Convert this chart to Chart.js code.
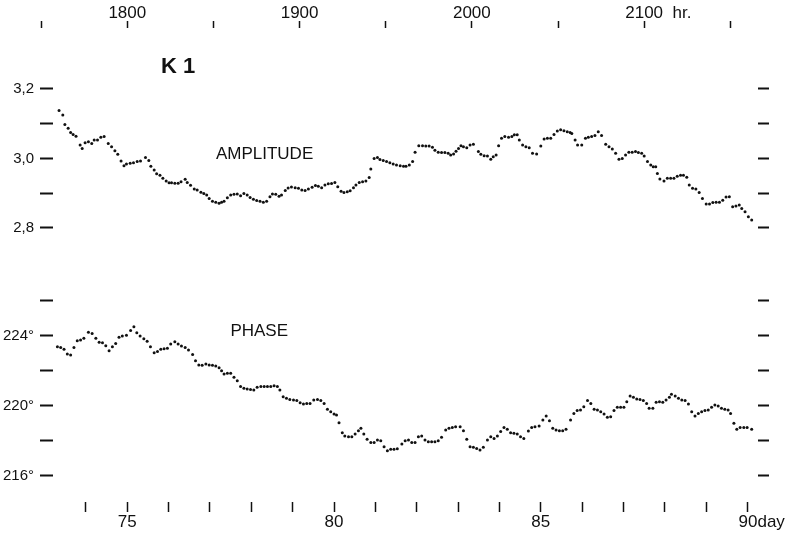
<!DOCTYPE html>
<html>
<head>
<meta charset="utf-8">
<script src="https://cdn.jsdelivr.net/npm/chart.js@4.4.1/dist/chart.umd.min.js"></script>
<style>
  html, body { margin: 0; padding: 0; background: #fff; }
  #wrap { width: 792px; height: 535px; }
</style>
</head>
<body>
<div id="wrap"><canvas id="k1Chart" width="792" height="535"></canvas></div>
<script>
// K1 constituent: amplitude and phase against day number (top axis in hours)
var ampDays = [
  73.35, 73.44, 73.49, 73.57, 73.63, 73.69, 73.76, 73.86, 73.91, 73.98,
  74.06, 74.14, 74.20, 74.28, 74.36, 74.44, 74.54, 74.62, 74.70, 74.77,
  74.85, 74.92, 74.98, 75.07, 75.15, 75.24, 75.32, 75.44, 75.52, 75.57,
  75.65, 75.71, 75.79, 75.86, 75.94, 76.01, 76.07, 76.15, 76.23, 76.30,
  76.40, 76.45, 76.53, 76.62, 76.69, 76.78, 76.85, 76.92, 76.98, 77.06,
  77.14, 77.22, 77.28, 77.34, 77.42, 77.50, 77.58, 77.66, 77.74, 77.82,
  77.90, 77.97, 78.05, 78.13, 78.21, 78.29, 78.37, 78.45, 78.51, 78.59,
  78.67, 78.73, 78.82, 78.89, 78.97, 79.06, 79.14, 79.22, 79.30, 79.38,
  79.47, 79.55, 79.62, 79.70, 79.78, 79.86, 79.94, 80.02, 80.09, 80.17,
  80.24, 80.32, 80.39, 80.47, 80.53, 80.61, 80.69, 80.77, 80.85, 80.89,
  80.97, 81.05, 81.11, 81.19, 81.27, 81.35, 81.43, 81.51,
  81.60, 81.68, 81.74, 81.82, 81.90, 81.96, 82.05, 82.14, 82.22, 82.30,
  82.38, 82.44, 82.52, 82.60, 82.68, 82.76, 82.82, 82.89, 82.95, 83.01,
  83.07, 83.13, 83.21, 83.29, 83.37, 83.49, 83.55, 83.63, 83.71, 83.79,
  83.85, 83.92, 83.98, 84.05, 84.13, 84.22, 84.30, 84.36, 84.43, 84.48,
  84.56, 84.64, 84.72, 84.80, 84.90, 85.00, 85.08, 85.16, 85.24, 85.32,
  85.40, 85.48, 85.56, 85.64, 85.71, 85.75, 85.83, 85.89, 85.99, 86.08,
  86.15, 86.23, 86.31, 86.39, 86.47, 86.57, 86.65, 86.73, 86.81, 86.89,
  86.97, 87.05, 87.13, 87.21, 87.29, 87.36, 87.44, 87.50, 87.58, 87.66,
  87.72, 87.78, 87.82, 87.88, 87.98, 88.06, 88.14, 88.22, 88.30, 88.38,
  88.45, 88.53, 88.59, 88.67, 88.75, 88.83, 88.91, 89.00, 89.08, 89.16,
  89.24, 89.32, 89.40, 89.48, 89.56, 89.64, 89.72, 89.80, 89.86, 89.94,
  90.02, 90.10
];
var ampValues = [
  3.138, 3.125, 3.098, 3.087, 3.075, 3.069, 3.064, 3.039, 3.029, 3.045,
  3.048, 3.043, 3.053, 3.053, 3.061, 3.063, 3.043, 3.034, 3.022, 3.012,
  2.993, 2.979, 2.984, 2.986, 2.988, 2.991, 2.993, 3.003, 2.994, 2.978,
  2.967, 2.956, 2.952, 2.943, 2.935, 2.930, 2.930, 2.929, 2.929, 2.933,
  2.940, 2.931, 2.923, 2.912, 2.909, 2.903, 2.899, 2.895, 2.885, 2.877,
  2.874, 2.871, 2.874, 2.877, 2.887, 2.895, 2.897, 2.898, 2.893, 2.899,
  2.895, 2.888, 2.883, 2.879, 2.877, 2.874, 2.877, 2.890, 2.898, 2.897,
  2.891, 2.895, 2.908, 2.915, 2.918, 2.916, 2.914, 2.909, 2.908, 2.912,
  2.917, 2.922, 2.920, 2.916, 2.924, 2.927, 2.928, 2.931, 2.919, 2.906,
  2.902, 2.904, 2.907, 2.916, 2.924, 2.931, 2.933, 2.935, 2.945, 2.970,
  3.000, 3.003, 2.997, 2.994, 2.991, 2.988, 2.984, 2.981,
  2.979, 2.978, 2.978, 2.981, 2.991, 3.018, 3.037, 3.037, 3.036, 3.036,
  3.032, 3.024, 3.018, 3.017, 3.017, 3.015, 3.010, 3.013, 3.021, 3.029,
  3.037, 3.034, 3.031, 3.039, 3.041, 3.020, 3.012, 3.008, 3.007, 2.998,
  3.005, 3.010, 3.037, 3.058, 3.063, 3.061, 3.063, 3.068, 3.068, 3.053,
  3.039, 3.034, 3.031, 3.015, 3.013, 3.036, 3.056, 3.058, 3.058, 3.069,
  3.079, 3.083, 3.080, 3.077, 3.075, 3.072, 3.053, 3.039, 3.039, 3.058,
  3.061, 3.063, 3.066, 3.077, 3.066, 3.041, 3.034, 3.027, 3.015, 2.998,
  3.000, 3.010, 3.018, 3.018, 3.020, 3.017, 3.015, 3.007, 2.991, 2.981,
  2.976, 2.976, 2.957, 2.941, 2.935, 2.943, 2.943, 2.943, 2.949, 2.952,
  2.952, 2.946, 2.924, 2.914, 2.912, 2.902, 2.885, 2.869, 2.869, 2.873,
  2.874, 2.874, 2.880, 2.889, 2.890, 2.861, 2.863, 2.866, 2.856, 2.847,
  2.832, 2.823
];

var phaseDays = [
  73.31, 73.39, 73.47, 73.55, 73.63, 73.71, 73.79, 73.87, 73.95, 74.06,
  74.15, 74.24, 74.32, 74.40, 74.48, 74.56, 74.64, 74.72, 74.80, 74.88,
  74.98, 75.08, 75.16, 75.23, 75.31, 75.40, 75.48, 75.56, 75.65, 75.73,
  75.81, 75.89, 75.97, 76.05, 76.15, 76.23, 76.31, 76.40, 76.48, 76.58,
  76.65, 76.73, 76.81, 76.90, 76.98, 77.06, 77.14, 77.22, 77.28, 77.34,
  77.42, 77.50, 77.58, 77.66, 77.74, 77.82, 77.90, 77.98, 78.06, 78.14,
  78.23, 78.31, 78.39, 78.47, 78.55, 78.63, 78.69, 78.77, 78.85, 78.93,
  79.02, 79.10, 79.18, 79.26, 79.34, 79.42, 79.51, 79.60, 79.68, 79.76,
  79.84, 79.92, 80.00, 80.06, 80.12, 80.20, 80.26, 80.35, 80.43, 80.51,
  80.59, 80.65, 80.72, 80.80, 80.89, 80.97, 81.05, 81.13, 81.21, 81.29,
  81.37, 81.45, 81.53,
  81.64, 81.72, 81.80, 81.88, 81.96, 82.04, 82.12, 82.20, 82.28, 82.36,
  82.44, 82.52, 82.60, 82.70, 82.78, 82.86, 82.94, 83.05, 83.13, 83.21,
  83.29, 83.37, 83.45, 83.53, 83.61, 83.71, 83.79, 83.87, 83.95, 84.03,
  84.11, 84.19, 84.27, 84.35, 84.43, 84.51, 84.59, 84.70, 84.78, 84.86,
  84.96, 85.05, 85.13, 85.21, 85.29, 85.37, 85.45, 85.53, 85.61, 85.72,
  85.80, 85.88, 85.96, 86.04, 86.13, 86.21, 86.29, 86.37, 86.45, 86.53,
  86.61, 86.69, 86.77, 86.85, 86.93, 87.01, 87.08, 87.16, 87.24, 87.32,
  87.40, 87.48, 87.56, 87.62, 87.71, 87.79, 87.87, 87.95, 88.03, 88.11,
  88.16, 88.25, 88.33, 88.41, 88.49, 88.57, 88.65, 88.73, 88.81, 88.89,
  88.97, 89.05, 89.13, 89.21, 89.29, 89.37, 89.45, 89.53, 89.59, 89.67,
  89.74, 89.82, 89.91, 89.99, 90.10
];
var phaseValues = [
  223.36, 223.32, 223.21, 222.94, 222.89, 223.32, 223.70, 223.74, 223.84, 224.18,
  224.12, 223.84, 223.61, 223.59, 223.42, 223.13, 223.36, 223.55, 223.90, 223.97,
  224.01, 224.28, 224.50, 224.16, 223.97, 223.82, 223.67, 223.36, 223.02, 223.08,
  223.21, 223.25, 223.27, 223.51, 223.65, 223.51, 223.40, 223.32, 223.17, 222.92,
  222.56, 222.31, 222.30, 222.37, 222.31, 222.30, 222.26, 222.16, 221.99, 221.80,
  221.84, 221.84, 221.61, 221.42, 221.08, 220.98, 220.94, 220.92, 220.89, 221.04,
  221.08, 221.08, 221.08, 221.08, 221.13, 221.08, 220.89, 220.50, 220.41, 220.35,
  220.31, 220.28, 220.16, 220.09, 220.12, 220.12, 220.31, 220.35, 220.28, 220.12,
  219.78, 219.65, 219.51, 219.46, 219.02, 218.45, 218.26, 218.22, 218.22, 218.37,
  218.56, 218.70, 218.37, 218.07, 217.88, 217.88, 218.03, 217.99, 217.65, 217.42,
  217.50, 217.50, 217.53,
  217.80, 217.99, 218.03, 217.88, 217.88, 218.22, 218.26, 218.03, 217.93, 217.93,
  217.93, 217.99, 218.18, 218.60, 218.70, 218.75, 218.79, 218.79, 218.56, 218.07,
  217.65, 217.61, 217.55, 217.46, 217.61, 218.03, 218.22, 218.12, 218.26, 218.51,
  218.75, 218.64, 218.45, 218.41, 218.37, 218.22, 218.12, 218.54, 218.75, 218.79,
  218.83, 219.17, 219.40, 219.13, 218.70, 218.60, 218.56, 218.56, 218.64, 219.17,
  219.55, 219.71, 219.74, 219.93, 220.28, 220.12, 219.78, 219.74, 219.65, 219.51,
  219.33, 219.36, 219.71, 219.90, 219.90, 219.90, 220.22, 220.54, 220.47, 220.37,
  220.35, 220.28, 220.12, 219.84, 219.84, 220.18, 220.22, 220.18, 220.31, 220.47,
  220.64, 220.54, 220.41, 220.31, 220.28, 220.09, 219.65, 219.40, 219.55, 219.65,
  219.71, 219.74, 219.90, 220.03, 219.97, 219.84, 219.78, 219.74, 219.55, 218.98,
  218.64, 218.75, 218.75, 218.75, 218.64
];

var dayTicks = [74, 75, 76, 77, 78, 79, 80, 81, 82, 83, 84, 85, 86, 87, 88, 89, 90];
var dayTickLabels = ["", "75", "", "", "", "", "80", "", "", "", "", "85", "", "", "", "", "      90day"];
var hourTicks = [1750, 1800, 1850, 1900, 1950, 2000, 2050, 2100, 2150];
var hourTickLabels = ["", "1800", "", "1900", "", "2000", "", "      2100  hr.", ""];
var ampTicks = [2.8, 2.9, 3.0, 3.1, 3.2];
var ampTickLabels = ["2,8", "", "3,0", "", "3,2"];
var phaseTicks = [216, 218, 220, 222, 224, 226];
var phaseTickLabels = ["216°", "", "220°", "", "224°", ""];

var dayMin = 72.889, dayMax = 90.253;
var ampMin = 2.0115, ampMax = 3.3755;
var phaseMin = 214.486, phaseMax = 241.571;

var ink = "#111";
var fontFamily = "'Liberation Sans', Arial, Helvetica, sans-serif";

function pairs(xs, ys) {
    return xs.map(function (x, i) { return { x: x, y: ys[i] }; });
}
function fixedTicks(values) {
    return function (scale) {
        scale.ticks = values.map(function (v) { return { value: v }; });
    };
}
function fixedSize(w, h) {
    return function (scale) {
        if (w !== null) scale.width = w;
        if (h !== null) scale.height = h;
        scale.paddingLeft = 0; scale.paddingRight = 0;
        scale.paddingTop = 0; scale.paddingBottom = 0;
    };
}

// both left axes sit at the plot edge with zero width; widen their box so labels are not clipped
var leftLabelRoom = {
    id: "leftLabelRoom",
    afterLayout: function (chart) {
        chart.scales.yA.left = 0;
        chart.scales.yP.left = 0;
    }
};

var textPlugin = {
    id: "panelText",
    afterDraw: function (chart) {
        var ctx = chart.ctx, x = chart.scales.x;
        var yA = chart.scales.yA, yP = chart.scales.yP;
        ctx.save();
        ctx.fillStyle = ink;
        ctx.textAlign = "center";
        ctx.textBaseline = "middle";
        ctx.font = "bold 22px " + fontFamily;
        ctx.fillText("K 1", x.getPixelForValue(76.23), yA.getPixelForValue(3.263));
        ctx.font = "17px " + fontFamily;
        ctx.fillText("AMPLITUDE", x.getPixelForValue(78.32), yA.getPixelForValue(3.0115));
        ctx.fillText("PHASE", x.getPixelForValue(78.19), yP.getPixelForValue(224.26));
        ctx.restore();
    }
};

document.addEventListener("DOMContentLoaded", function () {
    var ctx = document.getElementById("k1Chart").getContext("2d");
    new Chart(ctx, {
        type: "scatter",
        data: {
            datasets: [{
                label: "Amplitude",
                data: pairs(ampDays, ampValues),
                xAxisID: "x",
                yAxisID: "yA",
                pointRadius: 1.5,
                pointBorderWidth: 0,
                backgroundColor: ink,
                borderColor: ink
            }, {
                label: "Phase",
                data: pairs(phaseDays, phaseValues),
                xAxisID: "x",
                yAxisID: "yP",
                pointRadius: 1.5,
                pointBorderWidth: 0,
                backgroundColor: ink,
                borderColor: ink
            }]
        },
        options: {
            responsive: false,
            animation: false,
            devicePixelRatio: 1,
            layout: { padding: { left: 40, right: 34, top: 0, bottom: 0 } },
            plugins: {
                legend: { display: false },
                tooltip: { enabled: false }
            },
            scales: {
                x: {
                    type: "linear", position: "bottom", min: dayMin, max: dayMax,
                    afterBuildTicks: fixedTicks(dayTicks),
                    afterFit: fixedSize(null, 33),
                    border: { display: false },
                    grid: { drawOnChartArea: false, tickLength: 10, tickWidth: 1.5, tickColor: ink },
                    ticks: {
                        autoSkip: false, maxRotation: 0, padding: 0, color: ink,
                        font: { family: fontFamily, size: 17 },
                        callback: function (v, i) { return dayTickLabels[i]; }
                    }
                },
                xTop: {
                    type: "linear", position: "top", min: dayMin * 24, max: dayMax * 24,
                    afterBuildTicks: fixedTicks(hourTicks),
                    afterFit: fixedSize(null, 28),
                    border: { display: false },
                    grid: { drawOnChartArea: false, tickLength: 7, tickWidth: 1.5, tickColor: ink },
                    ticks: {
                        autoSkip: false, maxRotation: 0, padding: -3, color: ink,
                        font: { family: fontFamily, size: 17 },
                        callback: function (v, i) { return hourTickLabels[i]; }
                    }
                },
                yA: {
                    type: "linear", position: "left", min: ampMin, max: ampMax,
                    afterBuildTicks: fixedTicks(ampTicks),
                    afterFit: fixedSize(0, null),
                    border: { display: false },
                    grid: { drawOnChartArea: false, tickLength: -13, tickWidth: 2, tickColor: ink },
                    ticks: {
                        padding: 19, color: ink, autoSkip: false,
                        font: { family: fontFamily, size: 15 },
                        callback: function (v, i) { return ampTickLabels[i]; }
                    }
                },
                yP: {
                    type: "linear", position: "left", min: phaseMin, max: phaseMax,
                    afterBuildTicks: fixedTicks(phaseTicks),
                    afterFit: fixedSize(0, null),
                    border: { display: false },
                    grid: { drawOnChartArea: false, tickLength: -13, tickWidth: 2, tickColor: ink },
                    ticks: {
                        padding: 19, color: ink, autoSkip: false,
                        font: { family: fontFamily, size: 15 },
                        callback: function (v, i) { return phaseTickLabels[i]; }
                    }
                },
                yARight: {
                    type: "linear", position: "right", min: ampMin, max: ampMax,
                    afterBuildTicks: fixedTicks(ampTicks),
                    afterFit: fixedSize(0, null),
                    border: { display: false },
                    grid: { drawOnChartArea: false, tickLength: 11, tickWidth: 2, tickColor: ink },
                    ticks: { display: false }
                },
                yPRight: {
                    type: "linear", position: "right", min: phaseMin, max: phaseMax,
                    afterBuildTicks: fixedTicks(phaseTicks),
                    afterFit: fixedSize(0, null),
                    border: { display: false },
                    grid: { drawOnChartArea: false, tickLength: 11, tickWidth: 2, tickColor: ink },
                    ticks: { display: false }
                }
            }
        },
        plugins: [leftLabelRoom, textPlugin]
    });
});
</script>
</body>
</html>
